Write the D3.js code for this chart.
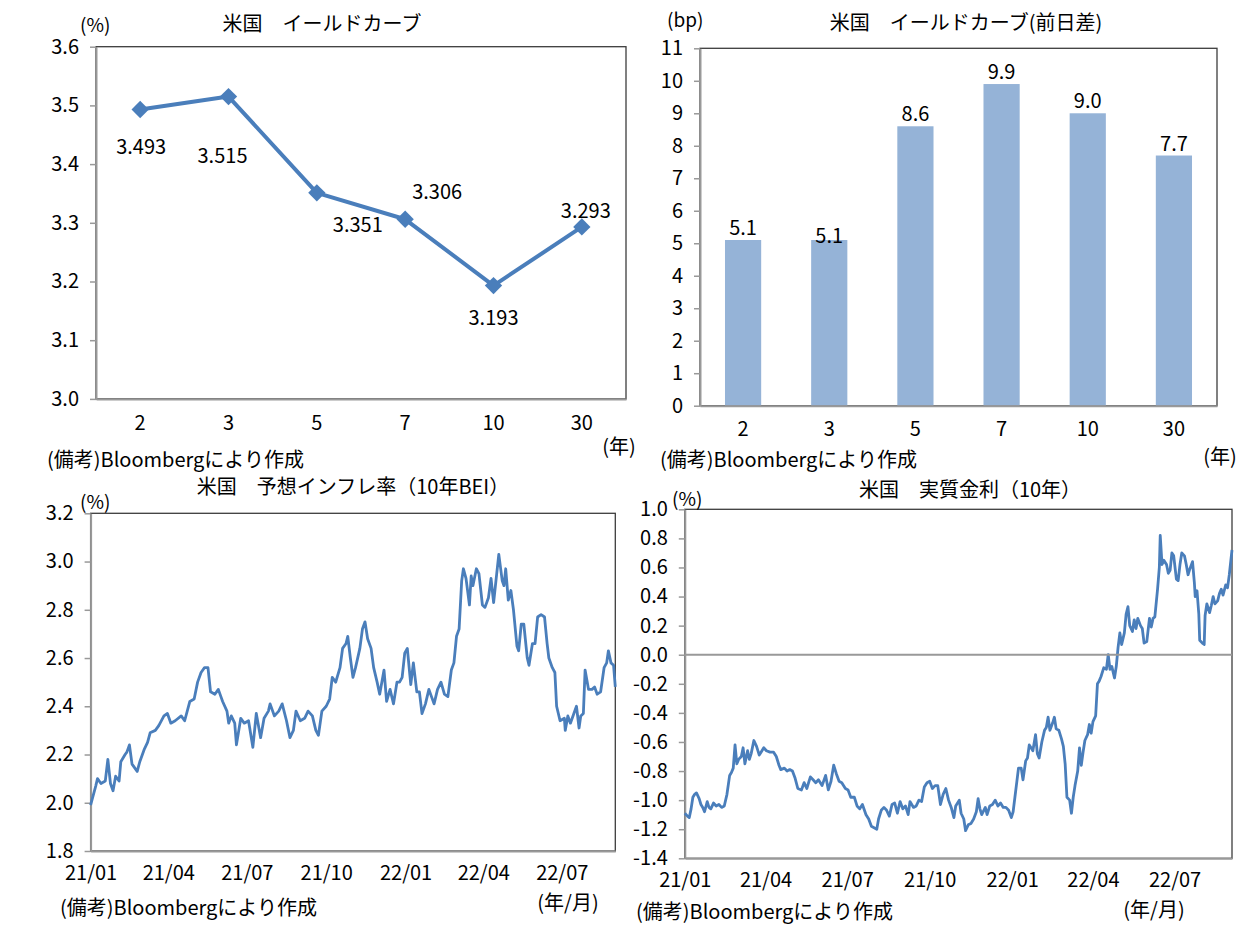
<!DOCTYPE html>
<html>
<head>
<meta charset="utf-8">
<script src="https://cdn.jsdelivr.net/npm/d3@7"></script>
<style>
  body { margin: 0; background: #fff; }
  svg { display: block; font-family: 'Noto Sans CJK JP', sans-serif; }
  text { fill: #000; }
</style>
</head>
<body>
<svg id="viz" width="1254" height="926"></svg>
<script>
// ---- data ----
const tenors       = ['2', '3', '5', '7', '10', '30'];
const curveLevels  = [3.493, 3.515, 3.351, 3.306, 3.193, 3.293];   // %
const curveChanges = [5.1, 5.1, 8.6, 9.9, 9.0, 7.7];               // bp

const levelTicks  = [3.0, 3.1, 3.2, 3.3, 3.4, 3.5, 3.6];
const changeTicks = [0, 1, 2, 3, 4, 5, 6, 7, 8, 9, 10, 11];
const beiTicks    = [1.8, 2.0, 2.2, 2.4, 2.6, 2.8, 3.0, 3.2];
const realTicks   = [-1.4, -1.2, -1.0, -0.8, -0.6, -0.4, -0.2, 0.0, 0.2, 0.4, 0.6, 0.8, 1.0];
const monthTicks  = ['2021-01-01', '2021-04-01', '2021-07-01', '2021-10-01',
                     '2022-01-01', '2022-04-01', '2022-07-01'];

const startDate = '2021-01-01';   // day 0 of the series below

// 10y BEI: days since startDate / value
const beiDays = [0, 6, 8, 12, 17, 20, 23, 26, 29, 33, 35, 40, 42, 45, 48, 54, 57, 62, 66, 69,
  75, 79, 85, 89, 93, 98, 105, 109, 115, 120, 124, 128, 132, 136, 139, 144, 148, 151, 153, 158,
  160, 163, 167, 169, 174, 178, 183, 188, 192, 197, 201, 206, 208, 213, 218, 222, 227, 231, 235, 238,
  243, 248, 252, 257, 261, 264, 268, 273, 277, 280, 284, 289, 292, 296, 298, 301, 304, 307, 312, 315,
  318, 321, 325, 328, 332, 335, 340, 343, 347, 351, 355, 358, 361, 364, 367, 371, 374, 378, 381, 384,
  388, 392, 395, 398, 402, 406, 410, 414, 418, 421, 424, 427, 430, 432, 435, 439, 441, 443, 447, 450,
  454, 457, 461, 464, 467, 470, 473, 477, 479, 481, 484, 487, 490, 494, 496, 499, 502, 506, 508, 512,
  515, 518, 522, 526, 529, 531, 535, 538, 540, 544, 549, 550, 553, 556, 560, 563, 566, 568, 571, 573,
  577, 581, 584, 587, 591, 595, 598, 600, 603, 606, 608];
const beiValues = [1.99, 2.07, 2.10, 2.08, 2.09, 2.18, 2.08, 2.05, 2.11, 2.09, 2.17, 2.20, 2.21, 2.24, 2.16, 2.13, 2.17, 2.22, 2.25, 2.29,
  2.30, 2.32, 2.36, 2.37, 2.33, 2.34, 2.36, 2.34, 2.42, 2.43, 2.50, 2.54, 2.56, 2.56, 2.46, 2.45, 2.47, 2.44, 2.42, 2.38,
  2.33, 2.36, 2.33, 2.24, 2.35, 2.33, 2.34, 2.23, 2.37, 2.27, 2.35, 2.38, 2.41, 2.36, 2.38, 2.41, 2.34, 2.27, 2.30, 2.38,
  2.34, 2.35, 2.38, 2.36, 2.30, 2.28, 2.38, 2.40, 2.43, 2.52, 2.50, 2.56, 2.64, 2.66, 2.69, 2.60, 2.52, 2.56, 2.64, 2.72,
  2.75, 2.68, 2.64, 2.56, 2.50, 2.45, 2.55, 2.42, 2.47, 2.41, 2.50, 2.50, 2.52, 2.62, 2.64, 2.49, 2.58, 2.46, 2.46, 2.37,
  2.41, 2.47, 2.44, 2.41, 2.47, 2.50, 2.45, 2.44, 2.55, 2.58, 2.69, 2.72, 2.92, 2.97, 2.93, 2.82, 2.94, 2.90, 2.97, 2.95,
  2.82, 2.81, 2.85, 2.93, 2.83, 2.93, 3.03, 2.92, 2.90, 2.97, 2.84, 2.88, 2.80, 2.65, 2.63, 2.74, 2.74, 2.60, 2.57, 2.66,
  2.66, 2.77, 2.78, 2.77, 2.66, 2.60, 2.56, 2.54, 2.40, 2.34, 2.35, 2.30, 2.36, 2.33, 2.37, 2.40, 2.31, 2.36, 2.37, 2.55,
  2.47, 2.47, 2.48, 2.45, 2.46, 2.56, 2.58, 2.63, 2.58, 2.57, 2.48];

// 10y real rate: days since startDate / value
const realDays = [0, 3, 5, 7, 9, 11, 13, 16, 18, 20, 22, 25, 27, 29, 32, 35, 38, 41, 44, 47,
  50, 52, 54, 56, 58, 60, 63, 65, 67, 70, 72, 74, 77, 80, 83, 85, 88, 91, 95, 99,
  102, 105, 107, 111, 114, 117, 120, 123, 126, 130, 133, 136, 140, 143, 146, 149, 153, 157, 160, 163,
  166, 169, 172, 175, 179, 182, 185, 189, 192, 195, 198, 202, 205, 208, 211, 214, 216, 219, 222, 225,
  228, 231, 234, 237, 240, 243, 246, 249, 251, 255, 258, 261, 264, 267, 270, 273, 276, 279, 282, 285,
  288, 291, 294, 297, 300, 302, 306, 308, 311, 313, 316, 319, 322, 325, 327, 329, 331, 335, 337, 340,
  343, 346, 349, 352, 355, 358, 361, 364, 366, 368, 371, 372, 375, 377, 380, 382, 384, 386, 388, 391,
  393, 395, 398, 401, 403, 405, 407, 410, 412, 414, 417, 420, 422, 424, 426, 429, 431, 433, 435, 438,
  440, 442, 444, 446, 449, 451, 453, 455, 458, 460, 462, 464, 467, 470, 472, 474, 476, 479, 481, 483,
  485, 487, 490, 492, 494, 496, 499, 501, 503, 505, 508, 510, 512, 515, 518, 520, 522, 524, 527, 529,
  530, 532, 534, 537, 539, 541, 543, 545, 548, 550, 552, 554, 557, 559, 561, 563, 566, 568, 569, 571,
  573, 574, 577, 579, 580, 582, 585, 587, 589, 591, 594, 596, 598, 600, 603, 605, 607, 610];
const realValues = [-1.09, -1.11, -1.12, -1.06, -0.98, -0.96, -0.95, -0.99, -1.03, -1.05, -1.08, -1.01, -1.05, -1.06, -1.02, -1.04, -1.03, -1.05, -1.04, -0.96,
  -0.83, -0.81, -0.78, -0.62, -0.75, -0.72, -0.70, -0.64, -0.75, -0.66, -0.72, -0.68, -0.59, -0.63, -0.69, -0.67, -0.64, -0.66, -0.67, -0.67,
  -0.70, -0.76, -0.79, -0.78, -0.80, -0.79, -0.80, -0.85, -0.92, -0.93, -0.88, -0.92, -0.84, -0.86, -0.88, -0.86, -0.90, -0.83, -0.93, -0.87,
  -0.76, -0.82, -0.87, -0.88, -0.92, -0.93, -0.98, -0.98, -1.04, -1.06, -1.03, -1.10, -1.13, -1.18, -1.19, -1.20, -1.13, -1.07, -1.05, -1.07,
  -1.11, -1.03, -1.02, -1.09, -1.01, -1.06, -1.04, -1.10, -1.01, -1.05, -1.04, -1.00, -1.01, -0.91, -0.88, -0.87, -0.92, -0.90, -0.90, -1.03,
  -0.96, -0.92, -1.00, -1.05, -1.12, -1.04, -1.00, -1.09, -1.13, -1.21, -1.17, -1.16, -1.13, -1.08, -0.99, -1.06, -1.10, -1.05, -1.10, -1.04,
  -1.03, -1.00, -1.04, -1.02, -1.05, -1.05, -1.07, -1.12, -1.08, -0.98, -0.83, -0.78, -0.78, -0.86, -0.73, -0.71, -0.62, -0.64, -0.66, -0.55,
  -0.68, -0.71, -0.60, -0.52, -0.50, -0.43, -0.52, -0.47, -0.43, -0.51, -0.52, -0.58, -0.63, -0.75, -0.98, -1.00, -1.09, -0.98, -0.90, -0.80,
  -0.64, -0.76, -0.67, -0.59, -0.55, -0.48, -0.54, -0.46, -0.42, -0.20, -0.18, -0.15, -0.09, -0.10, 0.00, -0.10, -0.08, -0.16, -0.08, 0.05,
  0.15, 0.07, 0.15, 0.28, 0.33, 0.20, 0.16, 0.24, 0.18, 0.25, 0.20, 0.18, 0.08, 0.09, 0.25, 0.19, 0.25, 0.26, 0.45, 0.60,
  0.82, 0.62, 0.65, 0.62, 0.56, 0.58, 0.70, 0.68, 0.52, 0.51, 0.62, 0.70, 0.68, 0.62, 0.55, 0.59, 0.64, 0.50, 0.40, 0.44,
  0.28, 0.10, 0.08, 0.07, 0.27, 0.35, 0.29, 0.34, 0.40, 0.35, 0.37, 0.42, 0.45, 0.41, 0.48, 0.46, 0.55, 0.72];

// ---- layout ----
const blue = '#4a7ebb', barBlue = '#95b3d7', axisGrey = '#999999', frame = '#3c3c3c';
const fontSize = '20px';
const svg = d3.select('#viz');
const parseDate = d3.timeParse('%Y-%m-%d');
const day0 = parseDate(startDate);

const boxTL = { left: 96,    right: 626,  top: 46.7,  bottom: 398.9 };
const boxTR = { left: 700,   right: 1217, top: 48.3,  bottom: 405.7 };
const boxBL = { left: 90.6,  right: 615.3, top: 513.3, bottom: 851 };
const boxBR = { left: 684.8, right: 1232, top: 509.3, bottom: 858.3 };

// label offsets from each marker in the yield curve chart (px)
const levelLabelOffset = [[1, 37], [-6, 59], [41, 32], [32, -27], [0, 32], [4, -16]];
// label offsets above each bar top (px)
const changeLabelDy = [-12, -4, -12, -12, -12, -12];

function label(x, y, str, anchor = 'start', size = fontSize) {
  svg.append('text')
     .attr('x', x).attr('y', y).attr('dy', '0.35em')
     .attr('text-anchor', anchor)
     .style('font-size', size)
     .text(str);
}

function frameRect(box) {
  svg.append('rect')
     .attr('x', box.left).attr('y', box.top)
     .attr('width', box.right - box.left).attr('height', box.bottom - box.top)
     .attr('fill', 'none').attr('stroke', frame).attr('stroke-width', 1.3);
}

function styleAxis(ax) {
  ax.attr('font-family', null).attr('font-size', null);
  ax.select('.domain').attr('stroke', axisGrey).attr('stroke-width', 2);
  ax.selectAll('.tick line').attr('stroke', axisGrey).attr('stroke-width', 1.5);
  ax.selectAll('.tick text').style('font-size', fontSize).attr('fill', '#000');
}

function yAxis(box, y, ticks, decimals) {
  const ax = svg.append('g')
    .attr('transform', `translate(${box.left},0)`)
    .call(d3.axisLeft(y).tickValues(ticks).tickSize(6).tickSizeOuter(0).tickPadding(11)
            .tickFormat(d => d.toFixed(decimals)));
  styleAxis(ax);
}

function xAxis(box, x, pad, opts = {}) {
  let axis = d3.axisBottom(x).tickSize(0).tickPadding(pad);
  if (opts.values) axis = axis.tickValues(opts.values);
  if (opts.format) axis = axis.tickFormat(opts.format);
  const ax = svg.append('g')
    .attr('transform', `translate(0,${box.bottom})`)
    .call(axis);
  styleAxis(ax);
}

// ---- top left: yield curve ----
{
  const box = boxTL;
  frameRect(box);
  const x = d3.scaleBand().domain(tenors).range([box.left, box.right]);
  const y = d3.scaleLinear().domain([3.0, 3.6]).range([box.bottom, box.top]);
  yAxis(box, y, levelTicks, 1);
  xAxis(box, x, 17);

  const pts = tenors.map((t, i) => [x(t) + x.bandwidth() / 2, y(curveLevels[i])]);
  svg.append('path')
     .attr('d', d3.line()(pts))
     .attr('fill', 'none').attr('stroke', blue).attr('stroke-width', 4)
     .attr('stroke-linejoin', 'round');
  svg.selectAll('.marker').data(pts).join('path')
     .attr('class', 'marker')
     .attr('transform', d => `translate(${d[0]},${d[1]}) rotate(45)`)
     .attr('d', d3.symbol(d3.symbolSquare, 150))
     .attr('fill', blue);
  pts.forEach((p, i) => {
    label(p[0] + levelLabelOffset[i][0], p[1] + levelLabelOffset[i][1],
          curveLevels[i].toFixed(3), 'middle');
  });

  label(80, 25, '(%)', 'start', '19px');
  label(322, 24, '米国　イールドカーブ', 'middle');
  label(619, 447, '(年)', 'middle');
  label(47, 460, '(備考)Bloombergにより作成');
}

// ---- top right: change of yield curve ----
{
  const box = boxTR;
  frameRect(box);
  const x = d3.scaleBand().domain(tenors).range([box.left, box.right]).paddingInner(0.58).paddingOuter(0.29);
  const y = d3.scaleLinear().domain([0, 11]).range([box.bottom, box.top]);

  svg.selectAll('.bar').data(curveChanges).join('rect')
     .attr('class', 'bar')
     .attr('x', (d, i) => x(tenors[i]))
     .attr('y', d => y(d))
     .attr('width', x.bandwidth())
     .attr('height', d => y(0) - y(d))
     .attr('fill', barBlue);
  curveChanges.forEach((d, i) => {
    label(x(tenors[i]) + x.bandwidth() / 2, y(d) + changeLabelDy[i], d.toFixed(1), 'middle');
  });

  yAxis(box, y, changeTicks, 0);
  xAxis(box, x, 16);

  label(667, 20, '(bp)', 'start', '19px');
  label(966, 23, '米国　イールドカーブ(前日差)', 'middle');
  label(1220, 457, '(年)', 'middle');
  label(660, 460, '(備考)Bloombergにより作成');
}

// ---- time series helper ----
function timeChart(box, days, values, yDomain, ticks) {
  frameRect(box);
  const dates = days.map(d => d3.timeDay.offset(day0, d));
  const x = d3.scaleTime().domain([day0, dates[dates.length - 1]]).range([box.left, box.right]);
  const y = d3.scaleLinear().domain(yDomain).range([box.bottom, box.top]);
  yAxis(box, y, ticks, 1);
  xAxis(box, x, 15, { values: monthTicks.map(parseDate), format: d3.timeFormat('%y/%m') });
  svg.append('path')
     .datum(values)
     .attr('d', d3.line().x((v, i) => x(dates[i])).y(v => y(v)))
     .attr('fill', 'none').attr('stroke', blue).attr('stroke-width', 2.8)
     .attr('stroke-linejoin', 'round');
  return { x, y };
}

// ---- bottom left: BEI ----
{
  timeChart(boxBL, beiDays, beiValues, [1.8, 3.2], beiTicks);
  label(353, 487, '米国　予想インフレ率（10年BEI）', 'middle');
  label(80, 502, '(%)', 'start', '19px');
  label(568, 903, '(年/月)', 'middle');
  label(60, 908, '(備考)Bloombergにより作成');
}

// ---- bottom right: real rate ----
{
  const { y } = timeChart(boxBR, realDays, realValues, [-1.4, 1.0], realTicks);
  svg.append('line')
     .attr('x1', boxBR.left).attr('x2', boxBR.right)
     .attr('y1', y(0)).attr('y2', y(0))
     .attr('stroke', axisGrey).attr('stroke-width', 2);
  label(970, 490, '米国　実質金利（10年）', 'middle');
  label(672, 499, '(%)', 'start', '19px');
  label(1154, 910, '(年/月)', 'middle');
  label(636, 912, '(備考)Bloombergにより作成');
}
</script>
</body>
</html>
